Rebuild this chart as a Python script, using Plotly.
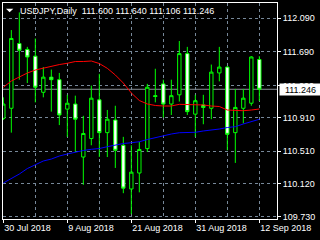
import plotly.graph_objects as go

# ---- data ----
dates = ["2018-07-30", "2018-07-31", "2018-08-01", "2018-08-02", "2018-08-03",
         "2018-08-06", "2018-08-07", "2018-08-08", "2018-08-09", "2018-08-10",
         "2018-08-13", "2018-08-14", "2018-08-15", "2018-08-16", "2018-08-17",
         "2018-08-20", "2018-08-21", "2018-08-22", "2018-08-23", "2018-08-24",
         "2018-08-27", "2018-08-28", "2018-08-29", "2018-08-30", "2018-08-31",
         "2018-09-03", "2018-09-04", "2018-09-05", "2018-09-06", "2018-09-07",
         "2018-09-10", "2018-09-11", "2018-09-12"]

opens = [110.90, 111.02, 111.79, 111.72, 111.64, 111.21, 111.39, 111.36, 111.01, 111.07,
         110.44, 110.66, 111.12, 110.73, 110.88, 110.58, 110.06, 110.25, 110.54, 111.17,
         111.31, 111.07, 111.18, 111.67, 110.95, 111.06, 111.02, 111.44, 111.51, 110.73,
         111.02, 111.08, 111.600]
highs = [111.15, 111.95, 112.16, 111.75, 111.85, 111.51, 111.48, 111.44, 111.18, 111.17,
         110.93, 111.29, 111.43, 111.00, 111.05, 110.68, 110.58, 110.62, 111.31, 111.49,
         111.36, 111.36, 111.82, 111.75, 111.18, 111.18, 111.54, 111.75, 111.52, 111.25,
         111.25, 111.64, 111.640]
lows = [110.88, 110.73, 111.36, 111.32, 111.09, 111.15, 110.98, 110.82, 110.68, 110.50,
        110.11, 110.58, 110.44, 110.44, 110.31, 110.01, 109.76, 110.02, 110.50, 111.09,
        110.91, 110.94, 111.10, 110.94, 110.68, 110.83, 110.89, 111.34, 110.52, 110.37,
        110.84, 111.05, 111.106]
closes = [111.07, 111.85, 111.71, 111.63, 111.27, 111.39, 111.36, 110.94, 111.08, 110.89,
          110.72, 111.14, 110.73, 110.89, 110.52, 110.07, 110.26, 110.53, 111.27, 111.16,
          111.07, 111.17, 111.67, 110.98, 111.11, 111.03, 111.45, 111.51, 110.71, 111.03,
          111.14, 111.63, 111.246]

ma_red = [111.269, 111.344, 111.392, 111.439, 111.475, 111.499, 111.523, 111.540, 111.555,
          111.576, 111.576, 111.582, 111.552, 111.495, 111.416, 111.320, 111.202, 111.112,
          111.071, 111.053, 111.047, 111.047, 111.067, 111.067, 111.067, 111.059, 111.047,
          111.041, 110.999, 110.993, 110.991, 110.999, 111.011]
ma_blue = [110.131, 110.184, 110.238, 110.303, 110.351, 110.393, 110.416, 110.452, 110.476,
           110.500, 110.518, 110.532, 110.541, 110.563, 110.583, 110.601, 110.610, 110.622,
           110.648, 110.672, 110.696, 110.714, 110.729, 110.734, 110.734, 110.750, 110.758,
           110.773, 110.791, 110.801, 110.833, 110.862, 110.889]

date_tick_idx = [0, 8, 16, 24, 32]
date_tick_text = ["30 Jul 2018", "9 Aug 2018", "21 Aug 2018", "31 Aug 2018", "12 Sep 2018"]
grid_minor_idx = [4, 12, 20, 28]
price_ticks = [112.090, 111.690, 111.290, 110.910, 110.510, 110.120, 109.730]
price_tick_text = ["112.090", "111.690", "111.290", "110.910", "110.510", "110.120", "109.730"]

symbol = "USDJPY,Daily"
last_price = closes[-1]

# ---- figure ----
idx = list(range(len(dates)))
FONT = "Liberation Sans"
GRID = "#778899"

fig = go.Figure()
fig.add_trace(go.Scatter(x=idx, y=ma_red, mode="lines",
                         line=dict(color="#ff0000", width=1), hoverinfo="skip"))
fig.add_trace(go.Scatter(x=idx, y=ma_blue, mode="lines",
                         line=dict(color="#0000ff", width=1), hoverinfo="skip"))
fig.add_trace(go.Candlestick(
    x=idx, open=opens, high=highs, low=lows, close=closes,
    increasing=dict(line=dict(color="#00ff00", width=1), fillcolor="#000000"),
    decreasing=dict(line=dict(color="#00ff00", width=1), fillcolor="#ffffff"),
    whiskerwidth=0, hoverinfo="skip"))

fig.add_shape(type="line", xref="paper", x0=0, x1=1, yref="y", y0=last_price, y1=last_price,
              line=dict(color="#8a8f96", width=1), layer="below")

# small triangle icon
fig.add_shape(type="path", xref="paper", yref="paper",
              path="M %f %f L %f %f L %f %f Z" % ((6 - 3) / 274, (219 - 8.7) / 216,
                                                  (13.3 - 3) / 274, (219 - 8.7) / 216,
                                                  (9.65 - 3) / 274, (219 - 12.3) / 216),
              fillcolor="#ffffff", line=dict(color="#ffffff", width=0))

title_text = "%s  %.3f %.3f %.3f %.3f" % (symbol, opens[-1], highs[-1], lows[-1], closes[-1])
fig.add_annotation(xref="paper", yref="paper", x=0, y=1, xanchor="left", yanchor="middle",
                   xshift=15, yshift=-7.5, text=title_text, showarrow=False,
                   font=dict(family=FONT, size=9, color="#ffffff"))

fig.add_annotation(xref="paper", yref="y", x=1, y=last_price, xanchor="left", yanchor="middle",
                   xshift=2, text="%.3f" % last_price, showarrow=False,
                   bgcolor="#ffffff", width=39, height=9, borderpad=1,
                   font=dict(family=FONT, size=9, color="#000000"))

fig.update_layout(
    width=320, height=240,
    margin=dict(l=3, r=43, t=3, b=21),
    paper_bgcolor="#000000", plot_bgcolor="#000000",
    showlegend=False, hovermode=False,
    font=dict(family=FONT, size=9, color="#ffffff"),
    boxgap=0.4,
    xaxis=dict(
        range=[-0.04, 34.21], rangeslider=dict(visible=False),
        tickmode="array", tickvals=date_tick_idx, ticktext=date_tick_text,
        ticks="outside", ticklen=3, tickcolor="#ffffff", tickwidth=1,
        ticklabelposition="outside right",
        tickfont=dict(family=FONT, size=9, color="#ffffff"),
        showline=True, linecolor="#ffffff", linewidth=1, mirror=True,
        showgrid=True, gridcolor=GRID, gridwidth=1, griddash="3px,3px",
        minor=dict(tickvals=grid_minor_idx, showgrid=True, gridcolor=GRID,
                   griddash="3px,3px", ticks=""),
        zeroline=False, fixedrange=True),
    yaxis=dict(
        side="right", range=[109.703, 112.272],
        tickmode="array", tickvals=price_ticks, ticktext=price_tick_text,
        ticks="outside", ticklen=3, tickcolor="#ffffff", tickwidth=1,
        tickfont=dict(family=FONT, size=9, color="#ffffff"),
        showline=True, linecolor="#ffffff", linewidth=1, mirror=True,
        showgrid=True, gridcolor=GRID, gridwidth=1, griddash="3px,3px",
        zeroline=False, fixedrange=True),
)

fig.write_html("out.html", config=dict(displayModeBar=False, staticPlot=True))
